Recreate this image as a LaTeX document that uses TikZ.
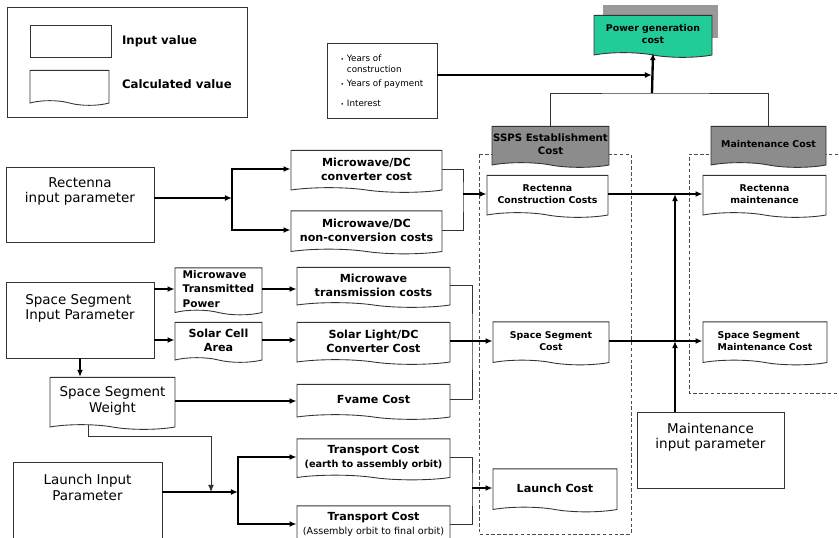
\documentclass[tikz,border=0pt]{standalone}
\usepackage{fontspec}
\setmainfont{DejaVu Sans}
\usetikzlibrary{arrows.meta,positioning,shapes.symbols,calc}

\definecolor{linec}{HTML}{333333}
\definecolor{hdrgray}{HTML}{8C8C8C}
\definecolor{pgcgreen}{HTML}{22CC99}
\definecolor{shadowgray}{HTML}{999999}

\newcommand\bigfont{\fontsize{11.5}{13}\selectfont}
\newcommand\midfont{\bfseries\fontsize{9.5}{12}\selectfont}
\newcommand\smfont{\bfseries\fontsize{8}{10}\selectfont}

\begin{document}
\begin{tikzpicture}[
    x=0.03cm,
    y=-0.03cm,
    >={Latex[length=6pt,width=5pt]},
    inbox/.style={draw=linec, line width=0.75pt, fill=white},
    inlbl/.style={font=\bigfont, align=center, yshift=0.39cm},
    calcbox/.style={tape, tape bend top=none, tape bend bottom=out and in,
        tape bend height=4pt, draw=linec, line width=0.75pt, fill=white,
        align=center, inner sep=1pt},
    midbox/.style={calcbox, font=\midfont},
    smbox/.style={calcbox, font=\smfont},
    hdrbox/.style={smbox, fill=hdrgray},
    arr/.style={->, line width=2pt},
    link/.style={line width=0.8pt, draw=linec},
    frame/.style={densely dashed, line width=0.8pt, draw=black!70}
]
\useasboundingbox (0,0) rectangle (839,538);
\clip (0,0) rectangle (839,538);

% Legend
\draw[linec, line width=0.75pt] (7,7) rectangle (247,117);
\node[inbox, minimum width=2.43cm, minimum height=0.96cm] (keyin) at (70.5,41) {};
\node[anchor=west, font=\bfseries\fontsize{10}{12}\selectfont] (keyintxt) at (118,41) {Input value};
\node[calcbox, minimum width=2.37cm, minimum height=1.05cm] (keycalc) at (69.5,85.5) {};
\node[anchor=west, font=\bfseries\fontsize{10}{12}\selectfont] (keycalctxt) at (118,84) {Calculated value};

% Financial inputs and result
\node[inbox, minimum width=3.3cm, minimum height=2.25cm, align=left,
    font=\fontsize{7.5}{9}\selectfont] (years) at (382,80.5)
    {{\tiny\textbullet}\ Years of\\\hphantom{{\tiny\textbullet}\ }construction\\[3pt]
     {\tiny\textbullet}\ Years of payment\\[8pt]
     {\tiny\textbullet}\ Interest};
\fill[shadowgray] (603,5) rectangle (718,38);
\node[calcbox, fill=pgcgreen, font=\bfseries\fontsize{8}{11}\selectfont,
    minimum width=3.54cm, minimum height=1.26cm] (pgc) at (653,34) {Power generation\\cost};

% Cost groups
\draw[frame] (479,154) rectangle (631,534);
\draw[frame] (850,154) -- (689,154) -- (689,393) -- (850,393);
\node[hdrbox, font=\bfseries\fontsize{8.7}{11}\selectfont,
    minimum width=3.45cm, minimum height=1.23cm] (ssps) at (550.5,144.5) {SSPS Establishment\\Cost};
\node[hdrbox, minimum width=3.45cm, minimum height=1.23cm] (mc) at (768.5,144.5) {Maintenance Cost};

\coordinate (jtop) at (652,93);
\draw[link] (ssps.north) |- (jtop) -| (mc.north);
\draw[arr] (jtop) -- (pgc.south);
\coordinate (yrs) at ([yshift=0.165cm]years.east);
\draw[arr] (yrs) -- (yrs -| jtop);

% Rectenna
\node[inbox, minimum width=4.44cm, minimum height=2.25cm,
    label={[inlbl]center:Rectenna\\input parameter}] (rip) at (80,204.5) {};
\coordinate (jr) at (232,198);
\draw[arr] (rip.east |- jr) -- (jr);
\node[midbox, minimum width=4.53cm, minimum height=1.26cm] (mwdc1) at (366.5,169) {Microwave/DC\\converter cost};
\node[midbox, minimum width=4.53cm, minimum height=1.29cm] (mwdc2) at (366.5,230) {Microwave/DC\\non-conversion costs};
\draw[arr] (jr) |- (mwdc1.west);
\draw[arr] (jr) |- (mwdc2.west);
\coordinate (jrc) at (463,194);
\draw[link] (mwdc1.east) -| (jrc) |- (mwdc2.east);
\node[smbox, minimum width=3.63cm, minimum height=1.26cm] (rcc) at (547.5,194) {Rectenna\\Construction Costs};
\draw[arr] (jrc) -- (rcc.west);
\node[smbox, minimum width=3.69cm, minimum height=1.26cm] (rm) at (764.5,194) {Rectenna\\maintenance};
\draw[arr] (rcc.east) -- (rm.west);

% Space segment
\node[inbox, minimum width=4.44cm, minimum height=2.28cm,
    label={[inlbl, align=left, yshift=-0.045cm]center:Space Segment\\Input Parameter}] (ssip) at (80,320) {};
\node[midbox, align=left, font=\bfseries\fontsize{9}{12.3}\selectfont,
    minimum width=2.61cm, minimum height=1.41cm] (mtp) at (218.5,289) {Microwave\\Transmitted\\Power};
\draw[arr] (ssip.east |- mtp.west) -- (mtp.west);
\node[midbox, minimum width=4.59cm, minimum height=1.2cm] (mwt) at (373.5,285) {Microwave\\transmission costs};
\draw[arr] (mtp.east) -- (mtp.east -| mwt.west);
\node[midbox, minimum width=2.61cm, minimum height=1.2cm] (sca) at (218.5,340) {Solar Cell\\Area};
\draw[arr] (ssip.east |- sca.west) -- (sca.west);
\node[midbox, minimum width=4.59cm, minimum height=1.26cm] (sldc) at (373.5,341) {Solar Light/DC\\Converter Cost};
\draw[arr] (sca.east) -- (sca.east -| sldc.west);
\node[calcbox, font=\bigfont, minimum width=3.75cm, minimum height=1.56cm] (ssw) at (112.5,401) {Space Segment\\Weight};
\draw[arr] (ssip.south) -- (ssip.south |- ssw.north);
\node[midbox, minimum width=4.59cm, minimum height=1.05cm] (fc) at (373.5,399.5) {Fvame Cost};
\draw[arr] (ssw.east) -- (ssw.east -| fc.west);
\coordinate (jss) at (472,341);
\draw[link] (mwt.east) -| (jss) |- (fc.east);
\node[smbox, minimum width=3.48cm, minimum height=1.29cm] (ssc) at (551,341) {Space Segment\\Cost};
\draw[arr] (sldc.east) -- (sldc.east -| ssc.west);
\node[smbox, align=left, minimum width=3.72cm, minimum height=1.29cm] (ssmc) at (765,341) {Space Segment\\Maintenance Cost};
\draw[arr] (ssc.east) -- (ssc.east -| ssmc.west);

% Launch
\node[inbox, minimum width=4.47cm, minimum height=2.34cm,
    label={[inlbl, yshift=0.015cm]center:Launch Input\\Parameter}] (lip) at (87.5,501) {};
\coordinate (jl) at (238,492);
\draw[arr] (lip.east |- jl) -- (jl);
\node[midbox, minimum width=4.59cm, minimum height=1.23cm] (tc1) at (373.5,457)
    {Transport Cost\\{\fontsize{8.3}{10}\selectfont(earth to assembly orbit)}};
\node[midbox, minimum width=4.59cm, minimum height=1.23cm] (tc2) at (373.5,524)
    {Transport Cost\\{\mdseries\fontsize{8.2}{10}\selectfont(Assembly orbit to final orbit)}};
\draw[arr] (jl) |- (tc1.west);
\draw[arr] (jl) |- (tc2.west);
\coordinate (sswb) at ([xshift=-0.735cm]ssw.south);
\coordinate (jlm) at (211,492);
\draw[link, ->] (sswb) -- ++(0,11) -| (jlm);
\coordinate (jlc) at (472,488);
\draw[link] (tc1.east) -| (jlc) |- (tc2.east);
\node[smbox, font=\bfseries\fontsize{9.5}{12}\selectfont,
    minimum width=3.72cm, minimum height=1.29cm] (lc) at (555,488) {Launch Cost};
\draw[arr] (jlc) -- (lc.west);

% Maintenance
\node[inbox, minimum width=4.41cm, minimum height=2.28cm,
    label={[inlbl]center:Maintenance\\input parameter}] (mip) at (710.5,450) {};
\coordinate (mipt) at ([xshift=-1.065cm]mip.north);
\draw[arr] (mipt) -- (mipt |- ssc.east);
\draw[arr] (mipt |- ssc.east) -- (mipt |- rcc.east);

\end{tikzpicture}
\end{document}
